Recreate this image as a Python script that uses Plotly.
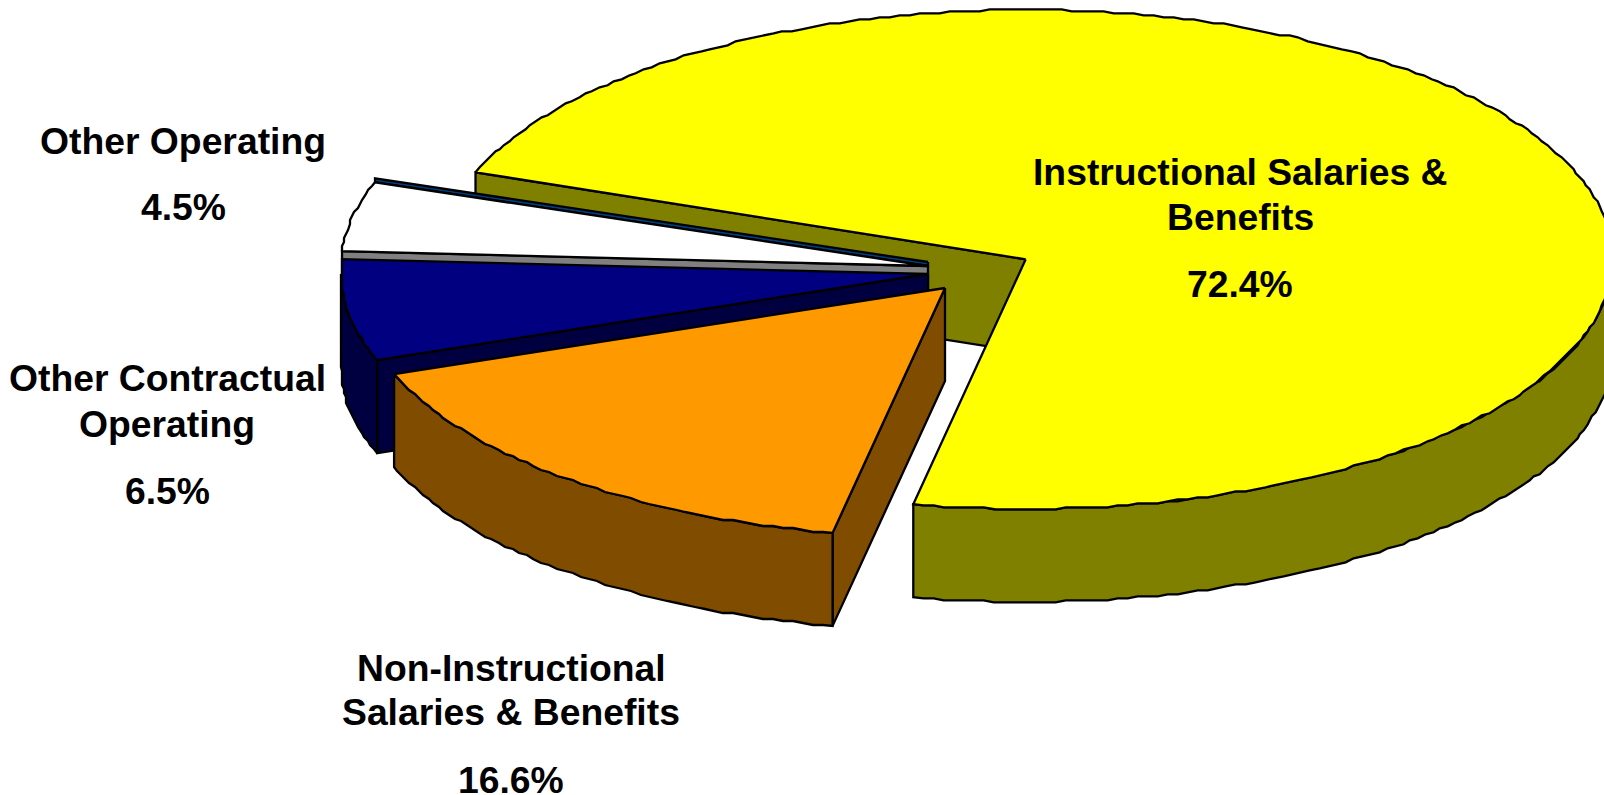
import math
import plotly.graph_objects as go

# ---- data ----
categories = ["Instructional Salaries & Benefits", "Non-Instructional Salaries & Benefits",
              "Other Contractual Operating", "Other Operating"]
values = [72.4, 16.6, 6.5, 4.5]

# ---- style / layout ----
top_colors = ["#FFFF00", "#FF9900", "#000080", "#FFFFFF"]
side_colors = ["#808000", "#804D00", "#000040", "#808080"]
sliver_color = "#003F7F"
apexes = [(1025.7, 259.3), (945.0, 288.0), (928.0, 274.0), (928.0, 266.0)]
RX, RY, DEPTH = 587.0, 249.5, 93.0
START = 290.4
# small perspective corrections of the slice boundaries, in degrees
start_nudges = [0.0, 0.0, -1.0, -0.8]
end_nudges = [0.0, -1.0, -0.8, -0.8]
GRID = 2.0  # outline vertices of the original sit on a coarse grid
W, H = 1604, 795
FONT = "Liberation Sans, Arial, sans-serif"
FONT_SIZE = 37.3
LINE_W = 2.3
label_blocks = [
    (0, 1240, [("Instructional Salaries &", 172), ("Benefits", 217)], 284),
    (1, 511, [("Non-Instructional", 668), ("Salaries & Benefits", 712)], 780),
    (2, 167, [("Other Contractual", 378), ("Operating", 424)], 491),
    (3, 183, [("Other Operating", 141)], 207),
]

# slice angle spans, clockwise from the top
spans = []
a = START
for i, v in enumerate(values):
    b = a + v * 3.6
    spans.append((a + start_nudges[i], b + end_nudges[i]))
    a = b


def pt(apex, deg, dz=0.0, snap=False):
    r = math.radians(deg)
    dx, dy = RX * math.sin(r), -RY * math.cos(r)
    if snap:
        dx, dy = round(dx / GRID) * GRID, round(dy / GRID) * GRID
    return apex[0] + dx, apex[1] + dy + dz


def arc(apex, a0, a1, dz=0.0, step=1.0):
    n = max(2, int(abs(a1 - a0) / step))
    return [pt(apex, a0 + (a1 - a0) * i / n, dz, snap=0 < i < n) for i in range(n + 1)]


fig = go.Figure()


def poly(points, color, name):
    xs = [p[0] for p in points] + [points[0][0]]
    ys = [p[1] for p in points] + [points[0][1]]
    fig.add_trace(go.Scatter(x=xs, y=ys, mode="lines", fill="toself", fillcolor=color,
                             line=dict(color="#000000", width=LINE_W, shape="linear"),
                             name=name, hoverinfo="name", showlegend=False))


def top(i):
    ap = apexes[i]
    poly([ap] + arc(ap, *spans[i]), top_colors[i], categories[i])


def cut_wall(i, deg):
    ap = apexes[i]
    e = pt(ap, deg)
    poly([ap, e, (e[0], e[1] + DEPTH), (ap[0], ap[1] + DEPTH)], side_colors[i], categories[i])


def outer_wall(i, a0, a1):
    ap = apexes[i]
    poly(arc(ap, a0, a1) + arc(ap, a1, a0, DEPTH), side_colors[i], categories[i])


# yellow: back cut, front rim, top
cut_wall(0, spans[0][0])
outer_wall(0, 450, spans[0][1])
top(0)

# white: thin dark sliver along the far cut, grey near cut, top
ap3 = apexes[3]
e3 = pt(ap3, spans[3][1])
poly([(ap3[0], ap3[1] - 4), (e3[0], e3[1] - 4), e3, ap3], sliver_color, categories[3])
cut_wall(3, spans[3][0])
top(3)

# navy: near cut, rim (visible up to the left extreme of the ellipse), top
cut_wall(2, spans[2][0])
outer_wall(2, spans[2][0], 630)
top(2)

# orange: right cut, rim, top
cut_wall(1, spans[1][0])
outer_wall(1, spans[1][0], spans[1][1])
top(1)

annotations = []
for idx, x, lines, pct_y in label_blocks:
    rows = lines + [(f"{values[idx]:.1f}%", pct_y)]
    for text, y in rows:
        annotations.append(dict(x=x, y=y, xref="x", yref="y", text=f"<b>{text}</b>", showarrow=False,
                                xanchor="center", yanchor="middle",
                                font=dict(family=FONT, size=FONT_SIZE, color="#000000")))

fig.update_layout(
    width=W, height=H, margin=dict(l=0, r=0, t=0, b=0),
    paper_bgcolor="#FFFFFF", plot_bgcolor="#FFFFFF", showlegend=False,
    xaxis=dict(range=[0, W], visible=False, fixedrange=True),
    yaxis=dict(range=[H, 0], visible=False, fixedrange=True),
    annotations=annotations,
)
fig.write_html("out.html", config={"displayModeBar": False},
               post_script="document.body.style.margin='0';document.body.style.overflow='hidden';")
